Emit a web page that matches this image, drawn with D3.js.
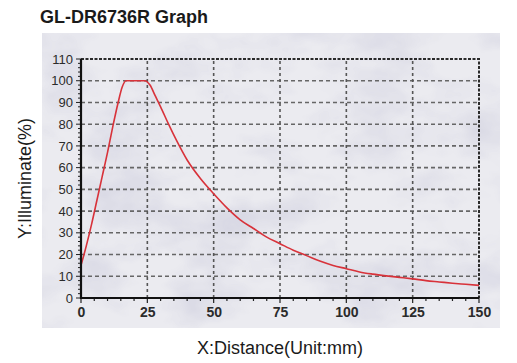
<!DOCTYPE html>
<html>
<head>
<meta charset="utf-8">
<script src="https://cdn.jsdelivr.net/npm/d3@7"></script>
<style>
  body { margin: 0; background: #fff; }
  svg { display: block; font-family: "Liberation Sans", Arial, sans-serif; }
</style>
</head>
<body>
<div id="chart"></div>
<script>
// curve
const distance = [0, 2, 4, 6, 8, 10, 12, 14, 15.5, 17, 24, 26, 28, 30, 33, 36, 40, 45, 50, 55, 60, 65, 70, 75, 80, 85, 90, 95, 100, 105, 110, 115, 120, 125, 130, 135, 140, 145, 150];
const illuminate = [15, 24, 34, 45, 56, 67, 79, 90, 97, 100, 100, 98, 93, 88, 80, 72.5, 63.5, 55, 48, 41.5, 36, 32, 28, 25, 22, 19.5, 17, 15, 13.5, 12, 11, 10.2, 9.5, 8.8, 8, 7.4, 6.8, 6.3, 5.8];

const xTicks = [0, 25, 50, 75, 100, 125, 150];
const yTicks = [0, 10, 20, 30, 40, 50, 60, 70, 80, 90, 100, 110];

const width = 517, height = 363;
const margin = {top: 59, right: 38, bottom: 65, left: 81};

const svg = d3.select("#chart").append("svg")
  .attr("width", width)
  .attr("height", height);

// marble-ish background
const defs = svg.append("defs");
const filt = defs.append("filter").attr("id", "marble")
  .attr("x", 0).attr("y", 0).attr("width", "100%").attr("height", "100%");
filt.append("feTurbulence")
  .attr("type", "fractalNoise")
  .attr("baseFrequency", "0.012 0.02")
  .attr("numOctaves", 4)
  .attr("seed", 7)
  .attr("result", "noise");
filt.append("feColorMatrix")
  .attr("in", "noise")
  .attr("type", "matrix")
  .attr("values", "0 0 0 0 0.55  0 0 0 0 0.55  0 0 0 0 0.68  0 0 0 -2.2 1.25")
  .attr("result", "veins");
filt.append("feComposite").attr("in", "veins").attr("in2", "SourceGraphic").attr("operator", "in");

svg.append("rect")
  .attr("x", 42).attr("y", 33)
  .attr("width", 458).attr("height", 295)
  .attr("fill", "#ebebf0");
svg.append("rect")
  .attr("x", 42).attr("y", 33)
  .attr("width", 458).attr("height", 295)
  .attr("fill", "#ebebf0")
  .attr("filter", "url(#marble)")
  .attr("opacity", 0.5);

const x = d3.scaleLinear().domain([0, 150]).range([margin.left, width - margin.right]);
const y = d3.scaleLinear().domain([0, 110]).range([height - margin.bottom, margin.top]);

// title
svg.append("text")
  .attr("x", 40).attr("y", 23)
  .attr("font-size", 18).attr("font-weight", "bold")
  .attr("fill", "#1a1a1a")
  .text("GL-DR6736R Graph");

// grid
svg.append("g").selectAll("line")
  .data(yTicks.filter(d => d > 0 && d < 110))
  .join("line")
  .attr("x1", x(0)).attr("x2", x(150))
  .attr("y1", d => y(d)).attr("y2", d => y(d))
  .attr("stroke", "#666")
  .attr("stroke-width", 1.6)
  .attr("stroke-dasharray", "4,3");

svg.append("g").selectAll("line")
  .data(xTicks.filter(d => d > 0 && d < 150))
  .join("line")
  .attr("x1", d => x(d)).attr("x2", d => x(d))
  .attr("y1", y(0)).attr("y2", y(110))
  .attr("stroke", "#555")
  .attr("stroke-width", 1.6)
  .attr("stroke-dasharray", "3,3");

// top & right frame (dashed dark)
svg.append("path")
  .attr("d", `M${x(0)},${y(110)}H${x(150)}V${y(0)}`)
  .attr("fill", "none")
  .attr("stroke", "#2a2a2a")
  .attr("stroke-width", 2)
  .attr("stroke-dasharray", "3,1.5");

// the curve
const line = d3.line()
  .x((d, i) => x(distance[i]))
  .y(d => y(d))
  .curve(d3.curveMonotoneX);

svg.append("path")
  .datum(illuminate)
  .attr("d", line)
  .attr("fill", "none")
  .attr("stroke", "#d8323a")
  .attr("stroke-width", 1.6);

// axes
const xAxis = d3.axisBottom(x).tickValues(xTicks).tickSize(0).tickPadding(9);
const gx = svg.append("g")
  .attr("transform", `translate(0,${y(0)})`)
  .call(xAxis);
gx.select(".domain").remove();
gx.selectAll("text")
  .attr("font-size", 14)
  .attr("font-weight", "bold")
  .attr("fill", "#2b2b2b")
  .attr("font-family", "Liberation Sans, Arial, sans-serif");

const yAxis = d3.axisLeft(y).tickValues(yTicks).tickSize(0).tickPadding(8);
const gy = svg.append("g")
  .attr("transform", `translate(${x(0)},0)`)
  .call(yAxis);
gy.select(".domain").remove();
gy.selectAll("text")
  .attr("font-size", 13)
  .attr("fill", "#2b2b2b")
  .attr("font-family", "Liberation Sans, Arial, sans-serif");

// minor ticks
svg.append("g").selectAll("line")
  .data(d3.range(0, 151, 5))
  .join("line")
  .attr("x1", d => x(d)).attr("x2", d => x(d))
  .attr("y1", y(0)).attr("y2", d => y(0) + (d % 25 === 0 ? 5 : 3))
  .attr("stroke", "#222").attr("stroke-width", 1.2);

svg.append("g").selectAll("line")
  .data(d3.range(0, 111, 2))
  .join("line")
  .attr("y1", d => y(d)).attr("y2", d => y(d))
  .attr("x1", x(0)).attr("x2", d => x(0) - (d % 10 === 0 ? 5 : 3))
  .attr("stroke", "#222").attr("stroke-width", 1);

// left & bottom axis lines
svg.append("path")
  .attr("d", `M${x(0)},${y(110)}V${y(0)}H${x(150)}`)
  .attr("fill", "none")
  .attr("stroke", "#111")
  .attr("stroke-width", 2.2);

// axis titles
svg.append("text")
  .attr("x", (x(0) + x(150)) / 2)
  .attr("y", 354)
  .attr("text-anchor", "middle")
  .attr("font-size", 18)
  .attr("fill", "#1a1a1a")
  .text("X:Distance(Unit:mm)");

svg.append("text")
  .attr("transform", `translate(31,${(y(0) + y(110)) / 2}) rotate(-90)`)
  .attr("text-anchor", "middle")
  .attr("font-size", 18)
  .attr("fill", "#1a1a1a")
  .text("Y:Illuminate(%)");
</script>
</body>
</html>
